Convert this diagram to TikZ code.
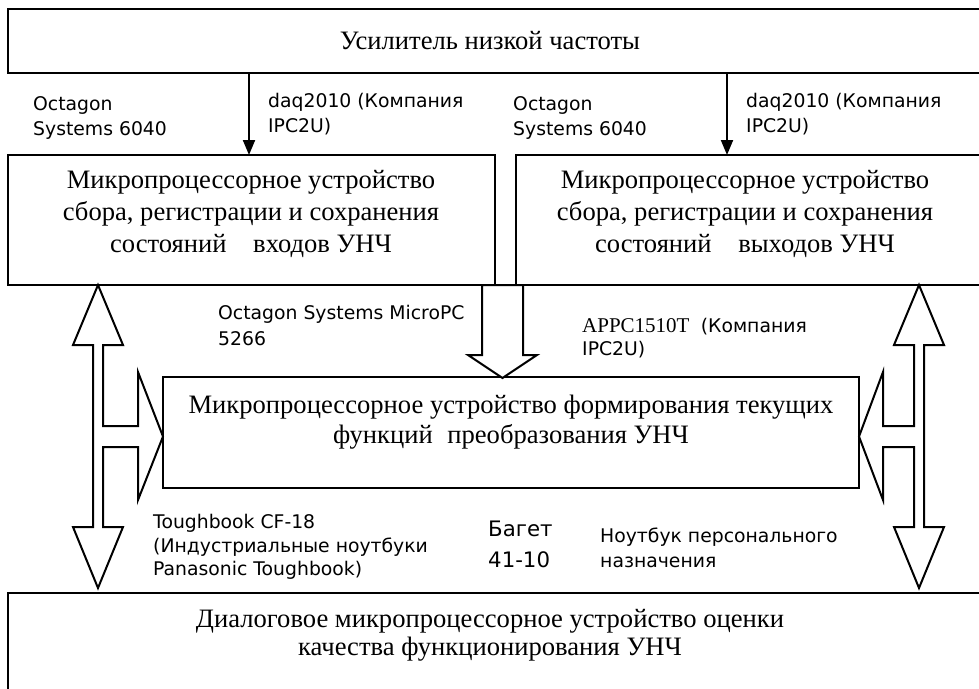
\documentclass[tikz,border=0pt]{standalone}
\usepackage{fontspec}
\setmainfont{Liberation Serif}
\newfontfamily\labelfont{DejaVu Sans}
\usetikzlibrary{arrows.meta}
\begin{document}
\begin{tikzpicture}[x=1pt,y=-1pt,
  box/.style={draw,line width=2pt,inner sep=0pt,outer sep=0pt},
  serif/.style={anchor=base,inner sep=0pt,font=\fontsize{26.6}{30}\selectfont},
  lbl/.style={anchor=base west,inner sep=0pt,font=\labelfont\fontsize{18.8}{22}\selectfont},
  bigl/.style={anchor=base west,inner sep=0pt,font=\labelfont\fontsize{21.3}{24}\selectfont},
  blockarrow/.style={draw,line width=2pt,line join=miter,fill=white},
  feed/.style={line width=2pt,-{Triangle[length=15pt,width=12pt]}}]
\useasboundingbox (0,0) rectangle (979,688);
\fill[white] (0,0) rectangle (979,688);

% blocks
\node[box,minimum width=982pt,minimum height=64pt] (amp) at (499,41) {};
\node[box,minimum width=487pt,minimum height=130pt] (inbox) at (251.5,220) {};
\node[box,minimum width=474pt,minimum height=130pt] (outbox) at (753,220) {};
\node[box,minimum width=696pt,minimum height=111pt] (func) at (511,432.5) {};
\node[box,minimum width=982pt,minimum height=107pt] (dlg) at (499,646.5) {};

% block texts
\node[serif] (t0) at (490,49) {Усилитель низкой частоты};
\node[serif] (t1a) at (251,188) {Микропроцессорное устройство};
\node[serif] (t1b) at (251,220) {сбора, регистрации и сохранения};
\node[serif] (t1c) at (251,252) {состояний\hspace{0.75em} входов УНЧ};
\node[serif] (t2a) at (745,188) {Микропроцессорное устройство};
\node[serif] (t2b) at (745,220) {сбора, регистрации и сохранения};
\node[serif] (t2c) at (745,252) {состояний\hspace{0.75em} выходов УНЧ};
\node[serif] (t3a) at (511,413) {Микропроцессорное устройство формирования текущих};
\node[serif] (t3b) at (511,443) {функций\hspace{0.3em} преобразования УНЧ};
\node[serif] (t4a) at (490,627) {Диалоговое микропроцессорное устройство оценки};
\node[serif] (t4b) at (490,655) {качества функционирования УНЧ};

% signal feeds from the amplifier
\coordinate (f1) at (249,73);
\coordinate (f2) at (727,73);
\draw[feed] (f1) -- (f1 |- inbox.north);
\draw[feed] (f2) -- (f2 |- outbox.north);

% bus from the acquisition units to the function unit
\draw[blockarrow] (482,285) -- (482,355) -- (468,355) -- (502.5,378) -- (537,355)
  -- (523,355) -- (523,285) -- cycle;

% left exchange bus
\draw[blockarrow] (98,285) -- (123,345) -- (103,345) -- (103,426) -- (138,426)
  -- (138,372) -- (163,436.5) -- (138,500) -- (138,447) -- (103,447) -- (103,527)
  -- (123,527) -- (98,588) -- (73,527) -- (93,527) -- (93,345) -- (73,345) -- cycle;

% right exchange bus
\draw[blockarrow] (919,285) -- (944,345) -- (924,345) -- (924,527) -- (944,527)
  -- (919,588) -- (894,527) -- (914,527) -- (914,447) -- (883,447) -- (883,500)
  -- (859,436.5) -- (883,372) -- (883,426) -- (914,426) -- (914,345) -- (894,345) -- cycle;

% hardware labels
\node[lbl] (l1a) at (33,110) {Octagon};
\node[lbl] (l1b) at (33,135) {Systems 6040};
\node[lbl] (l2a) at (268,107) {daq2010 (Компания};
\node[lbl] (l2b) at (268,132) {IPC2U)};
\node[lbl] (l3a) at (513,110) {Octagon};
\node[lbl] (l3b) at (513,135) {Systems 6040};
\node[lbl] (l4a) at (746,107) {daq2010 (Компания};
\node[lbl] (l4b) at (746,132) {IPC2U)};
\node[lbl] (l5a) at (218,319) {Octagon Systems MicroPC};
\node[lbl] (l5b) at (218,345) {5266};
\node[lbl] (l6a) at (582,332) {{\rmfamily\fontsize{21}{24}\selectfont APPC1510T}\hspace{0.6em}(Компания};
\node[lbl] (l6b) at (582,355) {IPC2U)};
\node[lbl] (l7a) at (153,528) {Toughbook CF-18};
\node[lbl] (l7b) at (153,552) {(Индустриальные ноутбуки};
\node[lbl] (l7c) at (153,575) {Panasonic Toughbook)};
\node[bigl] (l8a) at (488,536) {Багет};
\node[bigl] (l8b) at (488,567) {41-10};
\node[lbl] (l9a) at (600,542) {Ноутбук персонального};
\node[lbl] (l9b) at (600,567) {назначения};
\end{tikzpicture}
\end{document}
